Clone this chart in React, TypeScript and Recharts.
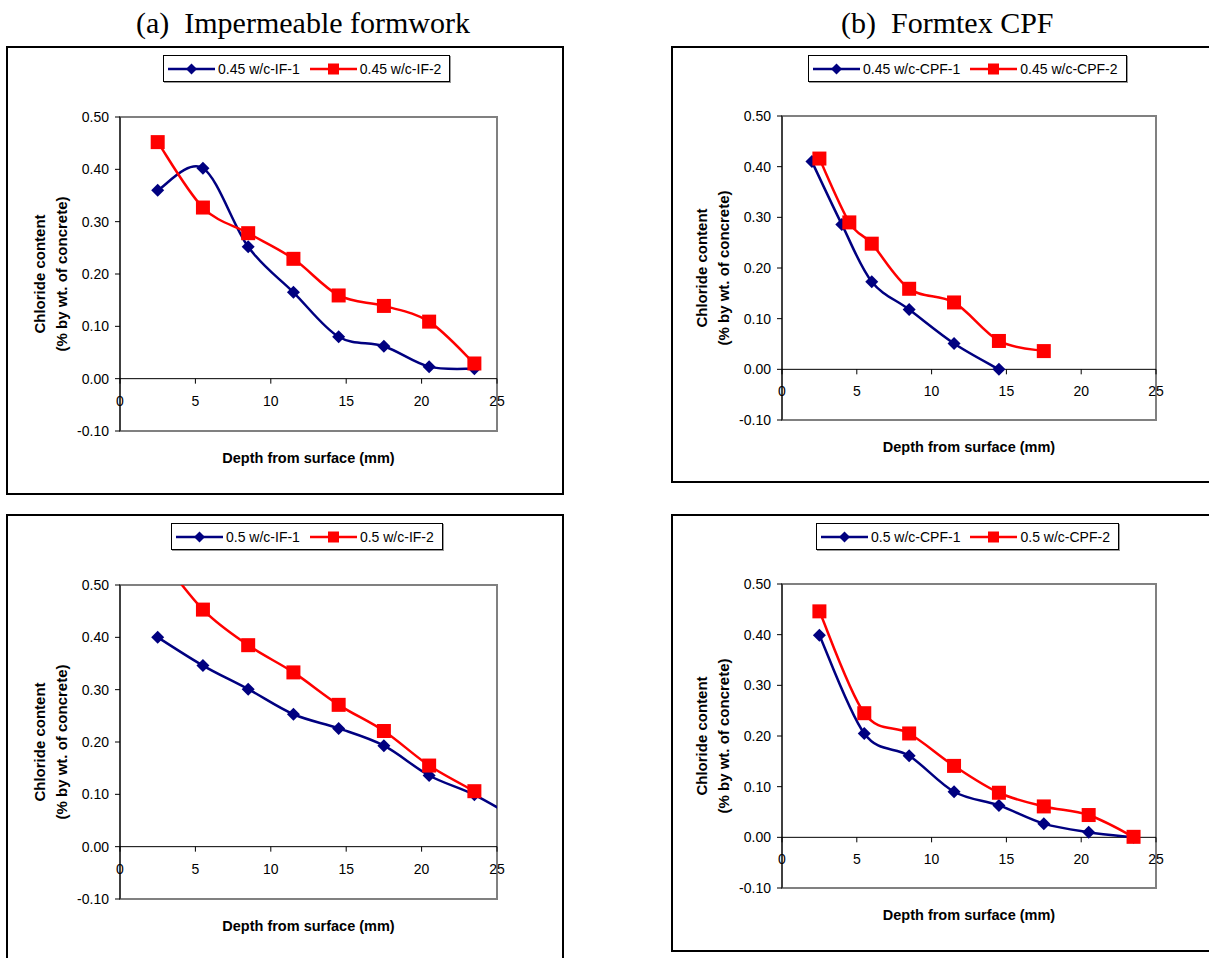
import React from "react";
import {
  LineChart,
  Line,
  XAxis,
  YAxis,
  Legend,
  ReferenceLine,
  ReferenceArea,
} from "recharts";

// depth of the slice centres (mm)
const depths = [2.5, 5.5, 8.5, 11.5, 14.5, 17.5, 20.5, 23.5];

// (a) impermeable formwork, 0.45 w/c
const if45Run1 = [0.36, 0.402, 0.252, 0.165, 0.08, 0.062, 0.023, 0.019];
const if45Run2 = [0.452, 0.327, 0.278, 0.229, 0.159, 0.139, 0.109, 0.029];

// (b) Formtex CPF, 0.45 w/c
const cpf45Run1Depths = [2, 4, 6, 8.5, 11.5, 14.5];
const cpf45Run1 = [0.41, 0.286, 0.173, 0.118, 0.051, 0.0];
const cpf45Run2Depths = [2.5, 4.5, 6, 8.5, 11.5, 14.5, 17.5];
const cpf45Run2 = [0.416, 0.29, 0.248, 0.159, 0.132, 0.056, 0.036];

// (a) impermeable formwork, 0.5 w/c (run 1 has one more slice past 25 mm)
const if50Run1Depths = [2.5, 5.5, 8.5, 11.5, 14.5, 17.5, 20.5, 23.5, 26.5];
const if50Run1 = [0.4, 0.346, 0.301, 0.253, 0.226, 0.193, 0.136, 0.099, 0.05];
const if50Run2 = [0.56, 0.453, 0.385, 0.333, 0.271, 0.221, 0.155, 0.106];

// (b) Formtex CPF, 0.5 w/c
const cpf50Run1 = [0.399, 0.205, 0.161, 0.09, 0.063, 0.027, 0.01, 0.0];
const cpf50Run2 = [0.446, 0.245, 0.205, 0.141, 0.088, 0.061, 0.044, 0.001];

const xTicks = [0, 5, 10, 15, 20, 25];
const yTicks = [-0.1, 0, 0.1, 0.2, 0.3, 0.4, 0.5];
const X_DOMAIN: [number, number] = [0, 25];
const Y_DOMAIN: [number, number] = [-0.1, 0.5];

const NAVY = "#000080";
const RED = "#FF0000";
const SANS = "Arial, 'Liberation Sans', sans-serif";
const SERIF = "'Times New Roman', 'Liberation Serif', serif";
const Y_AXIS_W = 60;
const X_AXIS_H = 40;

const toPoints = (xs: number[], ys: number[]) =>
  ys.map((y, i) => ({ x: xs[i], y }));

// Excel-style smoothed line: cardinal spline with zero tension
const smoothCurve = (context: any) => {
  let pts: number[][] = [];
  return {
    areaStart() {},
    areaEnd() {},
    lineStart() {
      pts = [];
    },
    point(x: number, y: number) {
      pts.push([+x, +y]);
    },
    lineEnd() {
      if (!pts.length) return;
      context.moveTo(pts[0][0], pts[0][1]);
      for (let i = 0; i < pts.length - 1; i++) {
        const p0 = pts[i - 1] ?? pts[i];
        const p1 = pts[i];
        const p2 = pts[i + 1];
        const p3 = pts[i + 2] ?? p2;
        context.bezierCurveTo(
          p1[0] + (p2[0] - p0[0]) / 6,
          p1[1] + (p2[1] - p0[1]) / 6,
          p2[0] - (p3[0] - p1[0]) / 6,
          p2[1] - (p3[1] - p1[1]) / 6,
          p2[0],
          p2[1]
        );
      }
    },
  };
};

const diamondDot = (p: any) => {
  const { cx, cy, index } = p;
  if (cx == null || cy == null) return <g key={index} />;
  const r = 6.5;
  return (
    <path
      key={index}
      d={`M${cx},${cy - r}L${cx + r},${cy}L${cx},${cy + r}L${cx - r},${cy}Z`}
      fill={NAVY}
    />
  );
};

const squareDot = (p: any) => {
  const { cx, cy, index } = p;
  if (cx == null || cy == null) return <g key={index} />;
  return <rect key={index} x={cx - 7} y={cy - 7} width={14} height={14} fill={RED} />;
};

const renderLegend = (props: any) => (
  <div
    style={{
      display: "flex",
      alignItems: "center",
      height: 25,
      padding: "0 8px 0 4px",
      border: "1px solid #000",
      boxShadow: "1px 1px 0 #999",
      background: "#fff",
      fontFamily: SANS,
      fontSize: 14,
      color: "#000",
      whiteSpace: "nowrap",
    }}
  >
    {(props.payload || []).map((item: any, i: number) => (
      <div key={i} style={{ display: "flex", alignItems: "center", marginLeft: i ? 10 : 0 }}>
        <svg width={47} height={14}>
          <line x1={0} y1={7} x2={47} y2={7} stroke={item.color} strokeWidth={2.5} />
          {i === 0 ? (
            <path d="M23.5,1.5L29,7L23.5,12.5L18,7Z" fill={item.color} />
          ) : (
            <rect x={18} y={1.5} width={11} height={11} fill={item.color} />
          )}
        </svg>
        <span style={{ marginLeft: 3 }}>{item.value}</span>
      </div>
    ))}
  </div>
);

const renderYTitle = (props: any) => {
  const { x, y, width, height } = props.viewBox;
  const right = x + width;
  const cy = y + height / 2;
  const style = { fontFamily: SANS, fontSize: 15, fontWeight: 700 };
  return (
    <g>
      <text
        transform={`translate(${right - 81},${cy}) rotate(-90)`}
        textAnchor="middle"
        dominantBaseline="central"
        fill="#000"
        style={style}
      >
        Chloride content
      </text>
      <text
        transform={`translate(${right - 59},${cy}) rotate(-90)`}
        textAnchor="middle"
        dominantBaseline="central"
        fill="#000"
        style={style}
      >
        (% by wt. of concrete)
      </text>
    </g>
  );
};

const renderXTitle = (props: any) => {
  const { x, y, width } = props.viewBox;
  return (
    <text
      x={x + width / 2}
      y={y + 27}
      textAnchor="middle"
      dominantBaseline="central"
      fill="#000"
      style={{ fontFamily: SANS, fontSize: 14.5, fontWeight: 700 }}
    >
      Depth from surface (mm)
    </text>
  );
};

interface PanelProps {
  left: number;
  top: number;
  width: number;
  height: number;
  margin: { top: number; right: number; bottom: number; left: number };
  legendAt: { left: number; top: number };
  names: [string, string];
  run1: { x: number; y: number }[];
  run2: { x: number; y: number }[];
}

const Panel: React.FC<PanelProps> = ({ left, top, width, height, margin, legendAt, names, run1, run2 }) => {
  const plotH = height - margin.top - margin.bottom - X_AXIS_H;
  // x axis crosses at y = 0
  const zeroY =
    margin.top + (plotH * (Y_DOMAIN[1] - 0)) / (Y_DOMAIN[1] - Y_DOMAIN[0]);

  const xTick = (p: any) => (
    <g>
      <line x1={p.x} y1={zeroY} x2={p.x} y2={zeroY + 5} stroke="#000" />
      <text x={p.x} y={zeroY + 27} textAnchor="middle" fill="#000" style={{ fontFamily: SANS, fontSize: 14 }}>
        {p.payload.value}
      </text>
    </g>
  );

  return (
    <div style={{ position: "absolute", left, top }}>
      <LineChart width={width} height={height} margin={margin}>
        <ReferenceArea
          x1={X_DOMAIN[0]}
          x2={X_DOMAIN[1]}
          y1={Y_DOMAIN[0]}
          y2={Y_DOMAIN[1]}
          fill="none"
          stroke="#808080"
          strokeWidth={2}
        />
        <XAxis
          type="number"
          dataKey="x"
          domain={X_DOMAIN}
          ticks={xTicks}
          interval={0}
          allowDataOverflow
          height={X_AXIS_H}
          axisLine={false}
          tickLine={false}
          tickSize={0}
          tickMargin={0}
          tick={xTick}
          label={renderXTitle}
        />
        <YAxis
          type="number"
          domain={Y_DOMAIN}
          ticks={yTicks}
          interval={0}
          allowDataOverflow
          width={Y_AXIS_W}
          axisLine={{ stroke: "#000" }}
          tickLine={{ stroke: "#000" }}
          tickSize={5}
          tickMargin={6}
          tick={{ fill: "#000", fontSize: 14, fontFamily: SANS }}
          tickFormatter={(v: number) => v.toFixed(2)}
          label={renderYTitle}
        />
        <ReferenceLine y={0} stroke="#000" />
        <Legend
          layout="vertical"
          align="center"
          verticalAlign="middle"
          content={renderLegend}
          wrapperStyle={{ left: legendAt.left, top: legendAt.top, width: "auto", height: "auto" }}
        />
        <Line
          data={run1}
          dataKey="y"
          name={names[0]}
          type={smoothCurve as any}
          stroke={NAVY}
          strokeWidth={2.5}
          dot={diamondDot}
          activeDot={false}
          isAnimationActive={false}
        />
        <Line
          data={run2}
          dataKey="y"
          name={names[1]}
          type={smoothCurve as any}
          stroke={RED}
          strokeWidth={2.5}
          dot={squareDot}
          activeDot={false}
          isAnimationActive={false}
        />
      </LineChart>
    </div>
  );
};

export default function App() {
  return (
    <div
      style={{
        position: "absolute",
        left: 0,
        top: 0,
        width: 1209,
        height: 958,
        background: "#fff",
        overflow: "hidden",
      }}
    >
      <svg width={1209} height={958} style={{ position: "absolute", left: 0, top: 0 }}>
        <text x={136} y={33} fill="#000" style={{ fontFamily: SERIF, fontSize: 30, whiteSpace: "pre" }}>
          {"(a)  Impermeable formwork"}
        </text>
        <text x={841} y={33} fill="#000" style={{ fontFamily: SERIF, fontSize: 30, whiteSpace: "pre" }}>
          {"(b)  Formtex CPF"}
        </text>
        <g fill="none" stroke="#000" strokeWidth={2}>
          <rect x={7} y={47} width={556} height={447} />
          <rect x={672} y={47} width={545} height={435} />
          <rect x={7} y={515} width={556} height={450} />
          <rect x={672} y={515} width={545} height={436} />
        </g>
      </svg>

      <Panel
        left={7}
        top={47}
        width={556}
        height={447}
        margin={{ top: 70, right: 66, bottom: 23, left: 53 }}
        legendAt={{ left: 156, top: 8 }}
        names={["0.45 w/c-IF-1", "0.45 w/c-IF-2"]}
        run1={toPoints(depths, if45Run1)}
        run2={toPoints(depths, if45Run2)}
      />
      <Panel
        left={672}
        top={47}
        width={540}
        height={435}
        margin={{ top: 69, right: 56, bottom: 22, left: 50 }}
        legendAt={{ left: 136, top: 8 }}
        names={["0.45 w/c-CPF-1", "0.45 w/c-CPF-2"]}
        run1={toPoints(cpf45Run1Depths, cpf45Run1)}
        run2={toPoints(cpf45Run2Depths, cpf45Run2)}
      />
      <Panel
        left={7}
        top={515}
        width={556}
        height={446}
        margin={{ top: 70, right: 66, bottom: 22, left: 53 }}
        legendAt={{ left: 164, top: 8 }}
        names={["0.5 w/c-IF-1", "0.5 w/c-IF-2"]}
        run1={toPoints(if50Run1Depths, if50Run1)}
        run2={toPoints(depths, if50Run2)}
      />
      <Panel
        left={672}
        top={515}
        width={540}
        height={436}
        margin={{ top: 69, right: 56, bottom: 23, left: 50 }}
        legendAt={{ left: 144, top: 8 }}
        names={["0.5 w/c-CPF-1", "0.5 w/c-CPF-2"]}
        run1={toPoints(depths, cpf50Run1)}
        run2={toPoints(depths, cpf50Run2)}
      />
    </div>
  );
}
